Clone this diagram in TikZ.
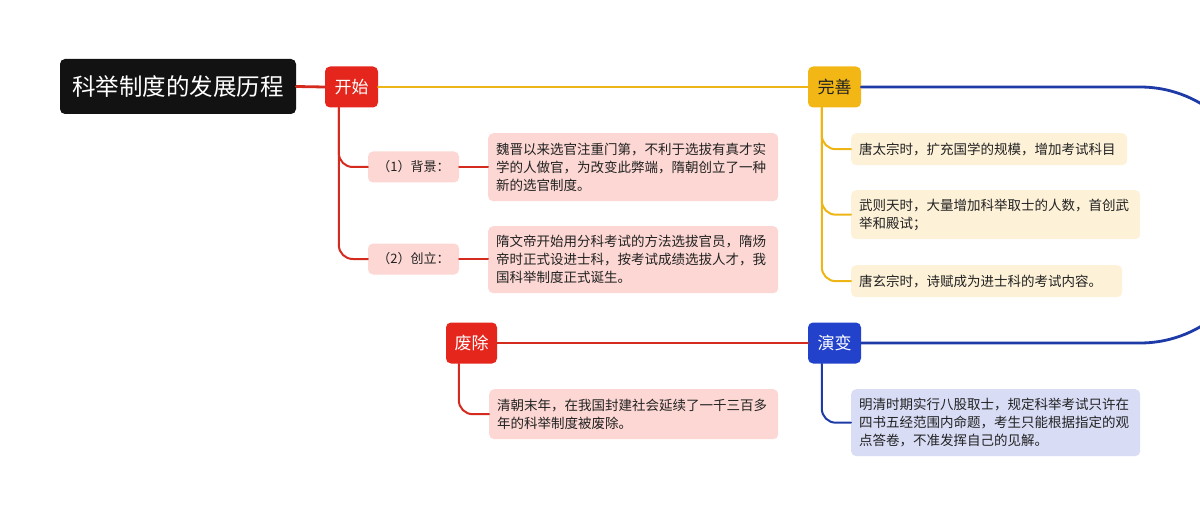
\documentclass[tikz,border=0pt]{standalone}
\usepackage{fontspec}
\setmainfont{Noto Sans CJK SC}

\definecolor{redtopic}{HTML}{E5261C}
\definecolor{redline}{HTML}{D52A1E}
\definecolor{yellowtopic}{HTML}{F2B714}
\definecolor{yellowline}{HTML}{EDB515}
\definecolor{bluetopic}{HTML}{2342CC}
\definecolor{blueline}{HTML}{1E3AA6}
\definecolor{pinkfill}{HTML}{FCD7D3}
\definecolor{creamfill}{HTML}{FDF1D8}
\definecolor{lilacfill}{HTML}{D8DCF5}
\definecolor{inktext}{HTML}{222222}

\begin{document}
\begin{tikzpicture}[x=1pt, y=-1pt, line cap=round, line join=round,
  root/.style={fill=black!93, text=white, rounded corners=5pt, inner sep=0pt,
    minimum width=236pt, minimum height=55pt, font=\fontsize{23.5}{28}\selectfont},
  topic/.style={fill=#1, rounded corners=5pt, inner sep=0pt,
    minimum width=53pt, minimum height=41pt, font=\fontsize{17}{20}\selectfont},
  subbox/.style={fill=pinkfill, text=inktext, rounded corners=5pt, inner sep=0pt,
    minimum width=91pt, minimum height=31pt, font=\fontsize{13}{17}\selectfont},
  leaf/.style={fill=#1, text=inktext, rounded corners=5pt, anchor=north west,
    inner xsep=8pt, inner ysep=0pt, align=left, font=\fontsize{13.5}{18}\selectfont},
  wire/.style={draw=#1, line width=2pt, rounded corners=14pt},
  mainwire/.style={draw=#1, line width=2.8pt}]

  \useasboundingbox (0,0) rectangle (1200,516);
  \clip (0,0) rectangle (1200,516);

  % 主干
  \node[root] (title) at (178,86.5) {科举制度的发展历程};
  \node[topic=redtopic, text=white] (kaishi) at (351.5,87) {开始};
  \node[topic=yellowtopic, text=inktext] (wanshan) at (834.5,87) {完善};
  \node[topic=bluetopic, text=white] (yanbian) at (834.5,343) {演变};
  \node[topic=redtopic, text=white, minimum width=51pt] (feichu) at (471.5,343) {废除};
  \coordinate (bend) at (1260,0);

  \draw[mainwire=redline] (title.east) -- (kaishi.west);
  \draw[mainwire=yellowline] (kaishi.east) -- (wanshan.west);
  \draw[mainwire=blueline, rounded corners=120pt] (wanshan.east) -- (wanshan.east -| bend)
    -- (yanbian.east -| bend) -- (yanbian.east);
  \draw[mainwire=redline] (feichu.east) -- (yanbian.west);

  % 开始
  \node[subbox] (beijing) at (413.5,167) {（1）背景：};
  \node[subbox] (chuangli) at (413.5,259) {（2）创立：};
  \node[leaf=pinkfill, text width=274pt, minimum height=68pt] (beijingtxt) at (488,133)
    {魏晋以来选官注重门第，不利于选拔有真才实\\学的人做官，为改变此弊端，隋朝创立了一种\\新的选官制度。};
  \node[leaf=pinkfill, text width=274pt, minimum height=67pt] (chuanglitxt) at (488,226)
    {隋文帝开始用分科考试的方法选拔官员，隋炀\\帝时正式设进士科，按考试成绩选拔人才，我\\国科举制度正式诞生。};

  \draw[wire=redline] ([xshift=14pt]kaishi.south west) |- (beijing.west);
  \draw[wire=redline] ([xshift=14pt]kaishi.south west) |- (chuangli.west);
  \draw[wire=redline] (beijing.east) -- (beijing.east -| beijingtxt.west);
  \draw[wire=redline] (chuangli.east) -- (chuangli.east -| chuanglitxt.west);

  % 完善
  \node[leaf=creamfill, text width=260pt, minimum height=32pt] (tang1) at (851,133)
    {唐太宗时，扩充国学的规模，增加考试科目};
  \node[leaf=creamfill, text width=273pt, minimum height=49pt] (wuzetian) at (851,190)
    {武则天时，大量增加科举取士的人数，首创武\\举和殿试；};
  \node[leaf=creamfill, text width=255pt, minimum height=32pt] (tang2) at (851,265)
    {唐玄宗时，诗赋成为进士科的考试内容。};

  \foreach \t in {tang1,wuzetian,tang2}
    \draw[wire=yellowline] ([xshift=14pt]wanshan.south west) |- (\t.west);

  % 演变
  \node[leaf=lilacfill, text width=273pt, minimum height=67pt] (mingqing) at (851,389)
    {明清时期实行八股取士，规定科举考试只许在\\四书五经范围内命题，考生只能根据指定的观\\点答卷，不准发挥自己的见解。};
  \draw[wire=blueline] ([xshift=14pt]yanbian.south west) |- (mingqing.west);

  % 废除
  \node[leaf=pinkfill, text width=273pt, minimum height=50pt] (qingmo) at (489,389)
    {清朝末年，在我国封建社会延续了一千三百多\\年的科举制度被废除。};
  \draw[wire=redline] ([xshift=13pt]feichu.south west) |- (qingmo.west);
\end{tikzpicture}
\end{document}
